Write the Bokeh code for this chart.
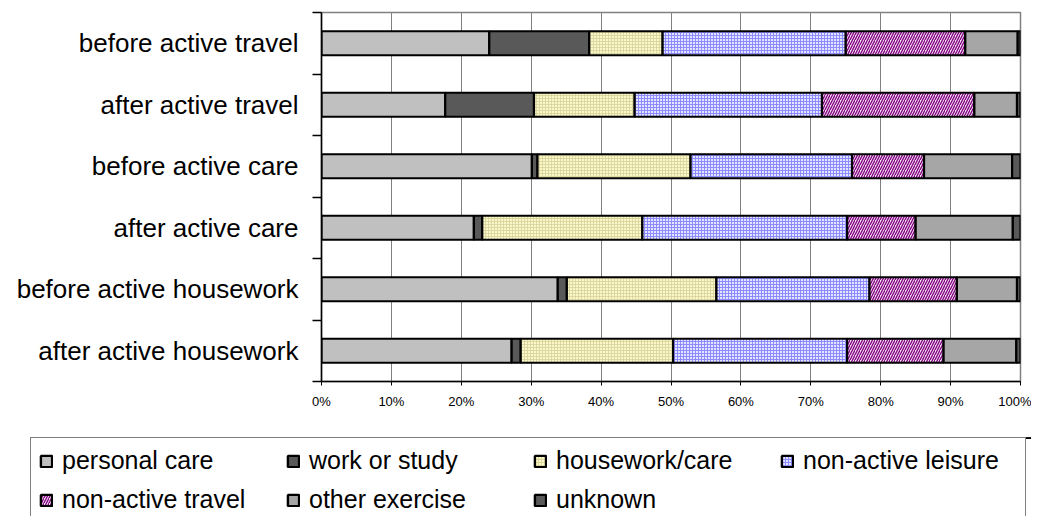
from bokeh.plotting import figure
from bokeh.models import (Range1d, FixedTicker, Legend, LegendItem, ColumnDataSource)
from bokeh.transform import stack
from bokeh.embed import file_html
from bokeh.resources import INLINE

categories = ["before active travel", "after active travel", "before active care",
              "after active care", "before active housework", "after active housework"]
series = ["personal care", "work or study", "housework/care", "non-active leisure",
          "non-active travel", "other exercise", "unknown"]
personal_care = [24.0, 17.7, 30.1, 21.8, 33.8, 27.2]
work_or_study = [14.3, 12.7, 0.8, 1.2, 1.3, 1.3]
housework_care = [10.5, 14.4, 21.9, 22.9, 21.4, 21.8]
non_active_leisure = [26.2, 26.8, 23.1, 29.3, 21.9, 24.9]
non_active_travel = [17.1, 21.8, 10.3, 9.8, 12.5, 13.8]
other_exercise = [7.5, 6.1, 12.6, 13.9, 8.6, 10.4]
unknown = [0.4, 0.5, 1.2, 1.1, 0.5, 0.6]
x_ticks = [0, 10, 20, 30, 40, 50, 60, 70, 80, 90, 100]
x_tick_labels = ["0%", "10%", "20%", "30%", "40%", "50%", "60%", "70%", "80%", "90%", "100%"]

values = [personal_care, work_or_study, housework_care, non_active_leisure,
          non_active_travel, other_exercise, unknown]
keys = ["s%d" % i for i in range(len(series))]

# normalise each row to 100 %
data = {"y": [i + 0.5 for i in range(len(categories))]}
for k, v in zip(keys, values):
    data[k] = list(v)
for r in range(len(categories)):
    tot = sum(data[k][r] for k in keys)
    for k in keys:
        data[k][r] = data[k][r] * 100.0 / tot
source = ColumnDataSource(data)

styles = [
    dict(fill_color="#C0C0C0"),
    dict(fill_color="#595959"),
    dict(fill_color="#FBF8C8", hatch_pattern="+", hatch_color="#D6CF9A", hatch_scale=3, hatch_weight=0.8),
    dict(fill_color="#E4E4FF", hatch_pattern="+", hatch_color="#8C8CFF", hatch_scale=3, hatch_weight=1),
    dict(fill_color="#F3E0F3", hatch_pattern="/", hatch_color="#800080", hatch_scale=5, hatch_weight=1.3),
    dict(fill_color="#A6A6A6"),
    dict(fill_color="#595959"),
]

FONT = "Liberation Sans"

p = figure(output_backend="svg", toolbar_location=None,
           width=1031, height=425,
           min_border_left=321, min_border_right=11, min_border_top=12, min_border_bottom=44,
           x_range=Range1d(0, 100), y_range=Range1d(6, 0))
p.background_fill_color = "white"
p.border_fill_color = "white"
p.outline_line_color = "#808080"
p.outline_line_width = 1.5

for i, (k, name, st) in enumerate(zip(keys, series, styles)):
    p.hbar(y="y", left=stack(*keys[:i]), right=stack(*keys[:i + 1]), height=0.39,
           source=source, line_color="black", line_width=2.2, **st)

# grid
p.ygrid.visible = False
p.xgrid.ticker = FixedTicker(ticks=x_ticks)
p.xgrid.grid_line_color = "#808080"
p.xgrid.grid_line_width = 1

# x axis
p.xaxis.ticker = FixedTicker(ticks=x_ticks)
p.xaxis.major_label_overrides = {t: l for t, l in zip(x_ticks, x_tick_labels)}
p.xaxis.major_label_text_font = FONT
p.xaxis.major_label_text_font_size = "13px"
p.xaxis.major_label_text_color = "black"
p.xaxis.major_tick_out = 4
p.xaxis.major_tick_in = 0
p.xaxis.minor_tick_out = 0
p.xaxis.axis_line_color = "black"
p.xaxis.axis_line_width = 1.5
p.xaxis.major_tick_line_color = "black"
p.xaxis.major_label_standoff = 8

# y axis: labels at centres, ticks at boundaries
p.yaxis.ticker = FixedTicker(ticks=data["y"], minor_ticks=list(range(len(categories) + 1)))
p.yaxis.major_label_overrides = {y: c for y, c in zip(data["y"], categories)}
p.yaxis.major_label_text_font = FONT
p.yaxis.major_label_text_font_size = "26px"
p.yaxis.major_label_text_color = "black"
p.yaxis.major_tick_out = 0
p.yaxis.major_tick_in = 0
p.yaxis.minor_tick_out = 9
p.yaxis.minor_tick_in = 0
p.yaxis.minor_tick_line_color = "black"
p.yaxis.minor_tick_line_width = 1.5
p.yaxis.axis_line_color = "black"
p.yaxis.axis_line_width = 1.5
p.yaxis.major_label_standoff = 14

# legend figure (separate root so its frame is not aligned with the chart)
p2 = figure(output_backend="svg", toolbar_location=None, width=1031, height=91,
            min_border_left=30, min_border_top=12, min_border_right=0, min_border_bottom=0,
            x_range=Range1d(0, 1), y_range=Range1d(0, 1),
            x_axis_type=None, y_axis_type=None)
p2.grid.visible = False
p2.outline_line_color = None
p2.background_fill_color = "white"
p2.border_fill_color = "white"

items = []
for name, st in zip(series, styles):
    # single off-screen bar so the legend swatch is drawn with the series style
    r = p2.hbar(y=[10], left=[0], right=[1], height=0.3,
                line_color="black", line_width=2.4, **st)
    items.append(LegendItem(label=name, renderers=[r]))

legend = Legend(items=items, ncols=4, location="top_left", orientation="horizontal")
legend.label_text_font = FONT
legend.label_text_font_size = "25px"
legend.label_text_color = "black"
legend.glyph_width = 14
legend.glyph_height = 14
legend.label_standoff = 9
legend.label_height = 29
legend.label_width = 214
legend.spacing = 10
legend.padding = 8
legend.margin = 0
legend.border_line_color = "black"
legend.border_line_width = 1
legend.background_fill_alpha = 1
p2.add_layout(legend, "center")

open("out.html", "w").write(file_html([p, p2], INLINE))
